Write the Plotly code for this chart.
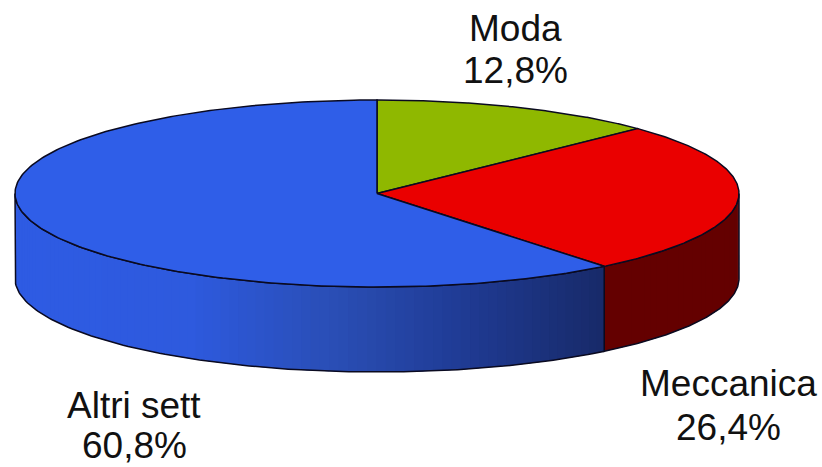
import numpy as np
import plotly.graph_objects as go

labels = ["Moda", "Meccanica", "Altri sett"]
shares = [12.8, 26.4, 60.8]
share_text = ["12,8%", "26,4%", "60,8%"]
top_colors = ["#8fb800", "#ea0000", "#2f5ee8"]
# side colours: left end of the slice -> right end
side_stops = {
    "Meccanica": [(0.0, (100, 0, 0)), (1.0, (100, 0, 0))],
    "Altri sett": [(0.0, (47, 92, 228)), (0.3, (46, 90, 222)), (0.55, (42, 78, 180)),
                   (0.75, (32, 60, 150)), (1.0, (24, 42, 105))],
}
label_pos = [(515, 28, 70), (728, 383, 427), (134, 405, 445)]

# pie geometry, in picture pixels
cx, cy = 377, 193.5
rx, ry = 362, 93.5
depth = 85
line_col = "#0a0a20"

def ell(t):
    # t in degrees clockwise from 12 o'clock
    t = np.radians(t)
    return cx + rx * np.sin(t), cy - ry * np.cos(t)

def side_col(name, x):
    stops = side_stops[name]
    pos = [s[0] for s in stops]
    f = (x - 15) / (605 - 15) if name == "Altri sett" else 0
    return "rgb(%d,%d,%d)" % tuple(np.interp(f, pos, [s[1][i] for s in stops]) for i in range(3))

fig = go.Figure()

edges = np.cumsum([0] + shares) * 3.6
spans = list(zip(edges[:-1], edges[1:]))

# side wall (only the front half of the ellipse is visible)
for name, (a, b) in zip(labels, spans):
    lo, hi = max(a, 90), min(b, 270)
    if lo >= hi:
        continue
    steps = np.linspace(lo, hi, int((hi - lo) / 1.5) + 2)
    for t0, t1 in zip(steps[:-1], steps[1:]):
        tt = np.linspace(t0, t1, 4)
        xs, ys = ell(tt)
        # +0.8 deg overlap so no white seams show between strips
        xs2, ys2 = ell(np.linspace(t0, min(t1 + 0.8, hi), 4))
        fig.add_trace(go.Scatter(
            x=list(xs2) + list(xs2[::-1]), y=list(ys2) + list(ys2[::-1] + depth),
            mode="lines", fill="toself", fillcolor=side_col(name, xs.mean()),
            line=dict(width=0), hoverinfo="skip"))
    # outline of the wall
    tt = np.linspace(lo, hi, 120)
    xs, ys = ell(tt)
    fig.add_trace(go.Scatter(
        x=list(xs) + list(xs[::-1]) + [xs[0]], y=list(ys) + list(ys[::-1] + depth) + [ys[0]],
        mode="lines", line=dict(color=line_col, width=1.5), hoverinfo="skip"))

# top faces
for name, col, (a, b) in zip(labels, top_colors, spans):
    tt = np.linspace(a, b, 240)
    xs, ys = ell(tt)
    fig.add_trace(go.Scatter(
        x=[cx] + list(xs) + [cx], y=[cy] + list(ys) + [cy],
        mode="lines", fill="toself", fillcolor=col,
        line=dict(color=line_col, width=1.5), name=name, hoverinfo="skip"))

for name, txt, (x, y1, y2) in zip(labels, share_text, label_pos):
    for s, y in ((name, y1), (txt, y2)):
        fig.add_annotation(x=x, y=y, text=s, showarrow=False, xanchor="center", yanchor="middle",
                           font=dict(family="Liberation Sans", size=37, color="#111111"))

fig.update_layout(
    width=822, height=467, margin=dict(l=0, r=0, t=0, b=0),
    paper_bgcolor="white", plot_bgcolor="white", showlegend=False,
    xaxis=dict(range=[0, 822], visible=False, fixedrange=True),
    yaxis=dict(range=[467, 0], visible=False, fixedrange=True),
)
# drop the browser's default body margin so the picture sits at 0,0
fig.write_html("out.html", config=dict(displayModeBar=False),
               post_script="document.body.style.margin='0';document.body.style.overflow='hidden';")
